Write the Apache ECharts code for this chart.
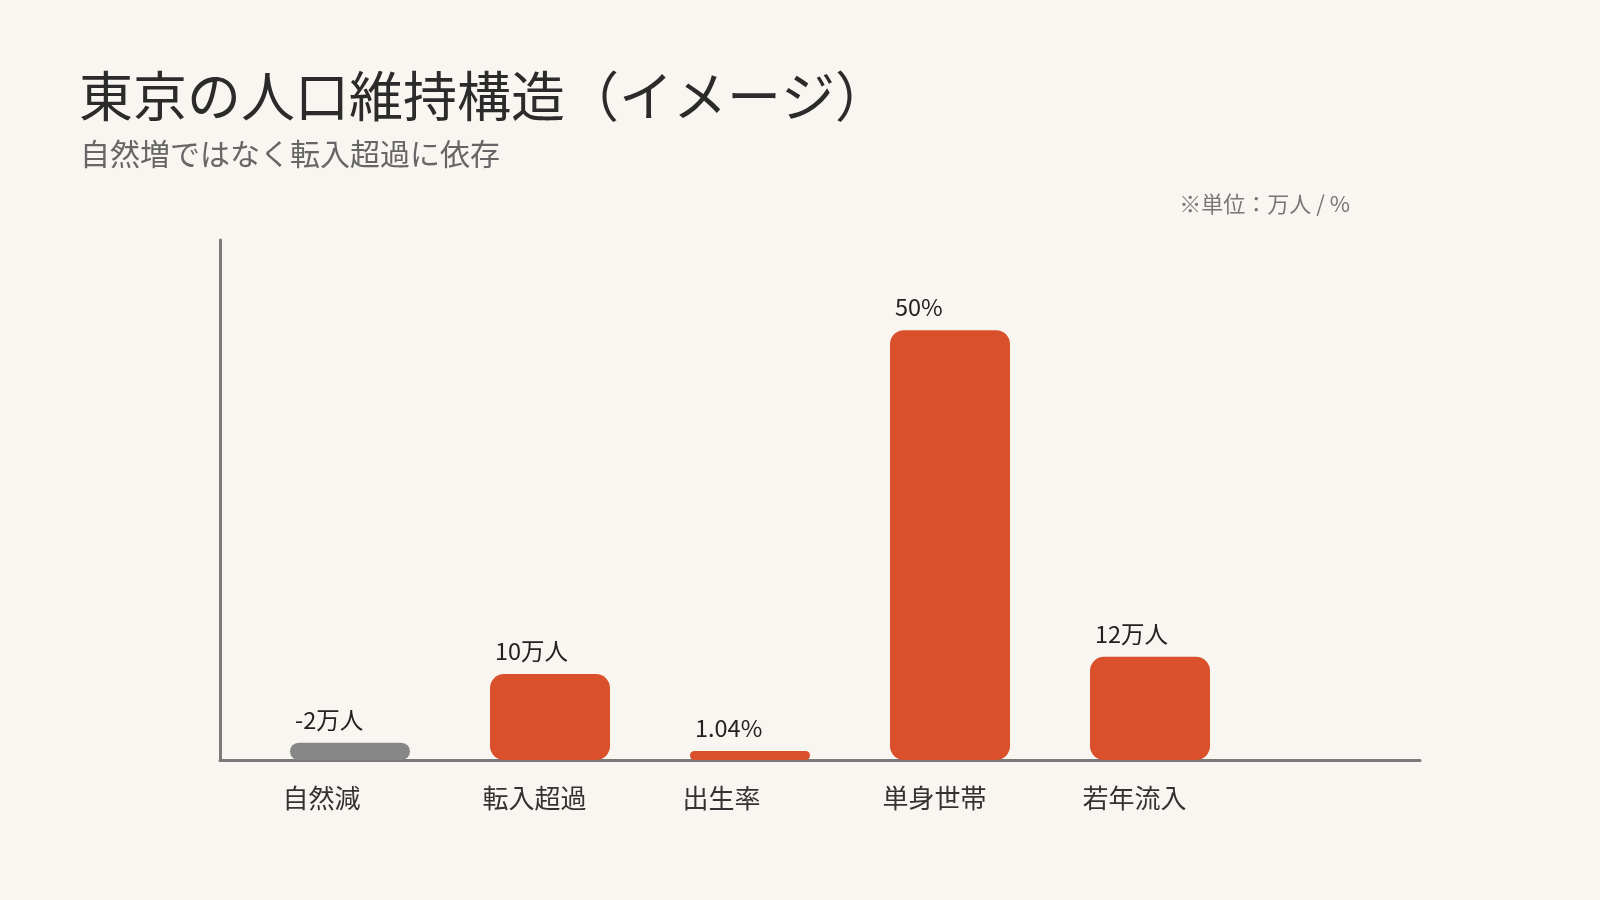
<!DOCTYPE html>
<html>
<head>
<meta charset="utf-8">
<title>東京の人口維持構造</title>
<script src="https://cdn.jsdelivr.net/npm/echarts@6/dist/echarts.min.js"></script>
<style>
  html, body { margin: 0; padding: 0; background: #f9f5f0; }
  #chart { width: 1600px; height: 900px; }
</style>
</head>
<body>
<div id="chart"></div>
<script>
// 項目、値（符号付き）、単位。最後の空欄は右側の余白用
const categories = ['自然減', '転入超過', '出生率', '単身世帯', '若年流入', '']
const values = [-2, 10, 1.04, 50, 12, null]
const units = ['万人', '万人', '%', '%', '万人', '']

const FONT = '"Noto Sans CJK JP", "Noto Sans", sans-serif'
const RED = '#d9502b'
const GRAY = '#878787'

// 棒の高さは絶対値、マイナスは灰色
const barData = values.map(v => {
  if (v === null) return '-'
  return {
    value: Math.abs(v),
    itemStyle: { color: v < 0 ? GRAY : RED }
  }
})

const chart = echarts.init(document.getElementById('chart'))

const option = {
  backgroundColor: '#f9f5f0',
  title: [
    {
      text: '東京の人口維持構造（イメージ）',
      left: 74,
      top: 64,
      textStyle: { fontFamily: FONT, fontSize: 54, fontWeight: 'normal', color: '#2b2b2b' }
    },
    {
      text: '自然増ではなく転入超過に依存',
      left: 75,
      top: 134,
      textStyle: { fontFamily: FONT, fontSize: 30, fontWeight: 'normal', color: '#666666' }
    },
    {
      text: '※単位：万人 / %',
      right: 245,
      top: 188,
      textStyle: { fontFamily: FONT, fontSize: 22, fontWeight: 'normal', color: '#777777' }
    }
  ],
  grid: { left: 220, right: 180, top: 240, bottom: 140 },
  xAxis: {
    type: 'category',
    data: categories,
    axisLine: { show: true, lineStyle: { color: '#7a7a7a', width: 3 } },
    axisTick: { show: false },
    axisLabel: {
      interval: 0,
      margin: 25,
      // 項目名は左揃え（目盛り位置から少し左が起点）
      formatter: v => '{l|' + v + '}',
      rich: {
        l: {
          width: 75,
          align: 'left',
          fontFamily: FONT,
          fontSize: 26,
          color: '#333333'
        }
      }
    },
    splitLine: { show: false }
  },
  yAxis: {
    type: 'value',
    min: 0,
    max: 60.5,
    axisLine: { show: true, lineStyle: { color: '#7a7a7a', width: 3 } },
    axisTick: { show: false },
    axisLabel: { show: false },
    splitLine: { show: false }
  },
  series: [
    // 棒を少し右へずらすための空系列
    {
      name: 'spacer',
      type: 'bar',
      barWidth: 60,
      barGap: '0%',
      silent: true,
      data: categories.map(() => '-')
    },
    {
      name: '値',
      type: 'bar',
      barWidth: 120,
      barGap: '0%',
      data: barData,
      itemStyle: { borderRadius: 14 },
      label: {
        show: true,
        position: [5, -11],
        align: 'left',
        verticalAlign: 'bottom',
        fontFamily: FONT,
        fontSize: 23.5,
        color: '#222222',
        formatter: p => values[p.dataIndex] + units[p.dataIndex]
      }
    }
  ]
}

chart.setOption(option)
</script>
</body>
</html>
